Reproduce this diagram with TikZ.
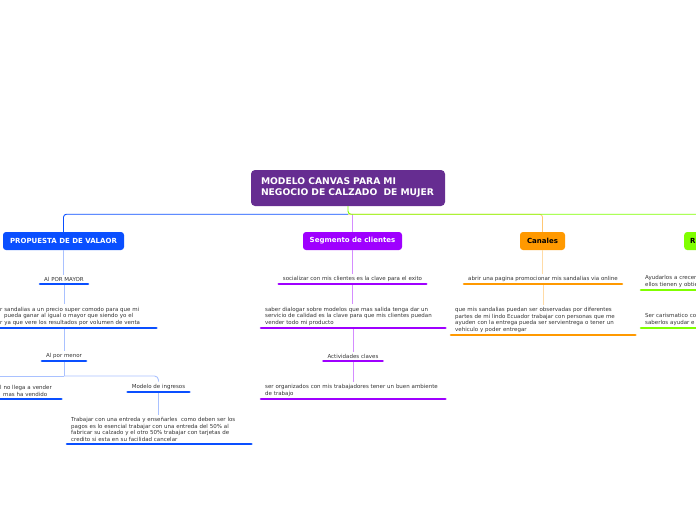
\documentclass[tikz,border=0pt]{standalone}
\usepackage{fontspec}
\setmainfont{DejaVu Sans}
\usetikzlibrary{positioning}
\definecolor{rootpurple}{HTML}{662D91}
\definecolor{bluec}{HTML}{0A4FFF}
\definecolor{violetc}{HTML}{9F00FF}
\definecolor{orangec}{HTML}{FF9900}
\definecolor{greenc}{HTML}{80FF00}
\definecolor{txtgray}{HTML}{333333}

\begin{document}
\begin{tikzpicture}[
  x=1pt, y=-1pt,
  topic/.style={rounded corners=3pt, minimum height=18pt, inner xsep=6pt, font=\fontsize{7}{8}\selectfont\bfseries},
  sub/.style={font=\fontsize{5.5}{6.6}\selectfont, text=txtgray, inner xsep=4pt, inner ysep=2.3pt},
  subw/.style={sub, text width=176pt, align=left},
  uline/.style={line width=2.6pt, line cap=round},
  link/.style={line width=0.9pt}
]
\useasboundingbox (0,0) rectangle (696,520);
\clip (0,0) rectangle (696,520);

% central topic
\node[fill=rootpurple, rounded corners=4pt, text=white, font=\fontsize{9.2}{11}\selectfont\bfseries,
  text width=174pt, inner xsep=10pt, minimum height=36pt, align=left] (root) at (348,188)
  {MODELO CANVAS PARA MI\\NEGOCIO DE CALZADO\ \ DE MUJER};

% main branches
\node[topic, fill=bluec, text=white, minimum width=121pt] (pv) at (63.5,241) {PROPUESTA DE DE VALAOR};
\node[topic, fill=violetc, text=white, minimum width=99pt] (seg) at (352.5,241) {Segmento de clientes};
\node[topic, fill=orangec, text=black, minimum width=45pt] (can) at (542.5,241) {Canales};
\node[topic, fill=greenc, text=black, text width=28pt, align=left, anchor=west] (rel) at (684,241) {R};

% propuesta de valor
\node[sub, anchor=south] (pv1) at (64,284) {Al POR MAYOR};
\node[subw, text width=152pt, anchor=south west] (pv2) at (-4,328)
  {r sandalias a un precio super comodo para que mi\\\hspace*{4pt}pueda ganar al igual o mayor que siendo yo el\\r ya que vere los resultados por volumen de venta};
\node[sub, anchor=south] (pv3) at (64,361) {Al por menor};
\node[subw, text width=57pt, anchor=south west] (pv4) at (-4,399) {l no llega a vender\\\hspace*{3pt}mas ha vendido};
\node[sub, anchor=south] (pv5) at (158.5,392) {Modelo de ingresos};
\node[subw, anchor=south west] (pv6) at (67,444)
  {Trabajar con una entreda y enseñarles\ \ como deben ser los\\pagos es lo esencial trabajar con una entreda del 50\% al\\fabricar su calzado y el otro 50\% trabajar con tarjetas de\\credito si esta en su facilidad cancelar};

% segmento de clientes
\node[sub, anchor=south] (sg1) at (352.5,284) {socializar con mis clientes es la clave para el exito};
\node[subw, anchor=south west] (sg2) at (261,328)
  {saber dialogar sobre modelos que mas salida tenga dar un\\servicio de calidad es la clave para que mis clientes puedan\\vender todo mi producto};
\node[sub, anchor=south] (sg3) at (353,361) {Actividades claves};
\node[subw, anchor=south west] (sg4) at (261,399)
  {ser organizados con mis trabajadores tener un buen ambiente\\de trabajo};

% canales
\node[sub, anchor=south] (cn1) at (543,284) {abrir una pagina promocionar mis sandalias via online};
\node[subw, anchor=south west] (cn2) at (451,335)
  {que mis sandalias puedan ser observadas por diferentes\\partes de mi lindo Ecuador trabajar con personas que me\\ayuden con la entrega pueda ser servientrega o tener un\\vehiculo y poder entregar};

% R...
\node[subw, anchor=south west] (rl1) at (641,290) {Ayudarlos a crecer\\ellos tienen y obtie};
\node[subw, anchor=south west] (rl2) at (641,328) {Ser carismatico co\\saberlos ayudar e};

% connectors from the root
\path (root.south) ++(0,8) coordinate (hub);
\coordinate (pvoff) at (-30,376);
\draw[link, orangec!55, rounded corners=3pt] (hub) -| (can.north);
\draw[link, violetc!45] (hub -| seg.north) -- (seg.north);
\draw[link, bluec, rounded corners=3pt] (hub) -| (pv.north);
\draw[link, greenc, rounded corners=3pt] (root.south) -- (hub) -| (rel.north);

% connectors inside the branches
\draw[link, bluec!35] (pv.south) -- (pv.south |- pv1.north);
\draw[link, bluec!35] (pv1.south) -- (pv1.south |- pv2.north);
\draw[link, bluec!35] (pv3.north |- pv2.south) -- (pv3.north);
\draw[link, bluec!35] (pv3.south) -- ++(0,15) coordinate (pvfork);
\draw[link, bluec!35, rounded corners=4pt] (pvfork) -| (pv5.north);
\draw[link, bluec!35] (pvfork) -- (pvfork -| pvoff);
\draw[link, bluec!35] (pv5.south) -- (pv5.south |- pv6.north);
\draw[link, violetc!45] (seg.south) -- (seg.south |- sg1.north);
\draw[link, violetc!45] (sg1.south) -- (sg1.south |- sg2.north);
\draw[link, violetc!45] (sg2.south) -- (sg2.south |- sg3.north);
\draw[link, violetc!45] (sg3.south) -- (sg3.south |- sg4.north);
\draw[link, orangec!35] (can.south) -- (can.south |- cn1.north);
\draw[link, orangec!35] (cn1.south) -- (cn1.south |- cn2.north);
\draw[link, greenc!45] (rel.south) -- (rel.south |- rl1.north);
\draw[link, greenc!45] (rl1.south) -- (rl1.south |- rl2.north);

% underlines
\foreach \n/\c in {pv1/bluec, pv2/bluec, pv3/bluec, pv4/bluec, pv5/bluec, pv6/bluec,
    sg1/violetc, sg2/violetc, sg3/violetc, sg4/violetc, cn1/orangec, cn2/orangec,
    rl1/greenc, rl2/greenc}
  \draw[uline, \c] (\n.south west) -- (\n.south east);
\end{tikzpicture}
\end{document}
